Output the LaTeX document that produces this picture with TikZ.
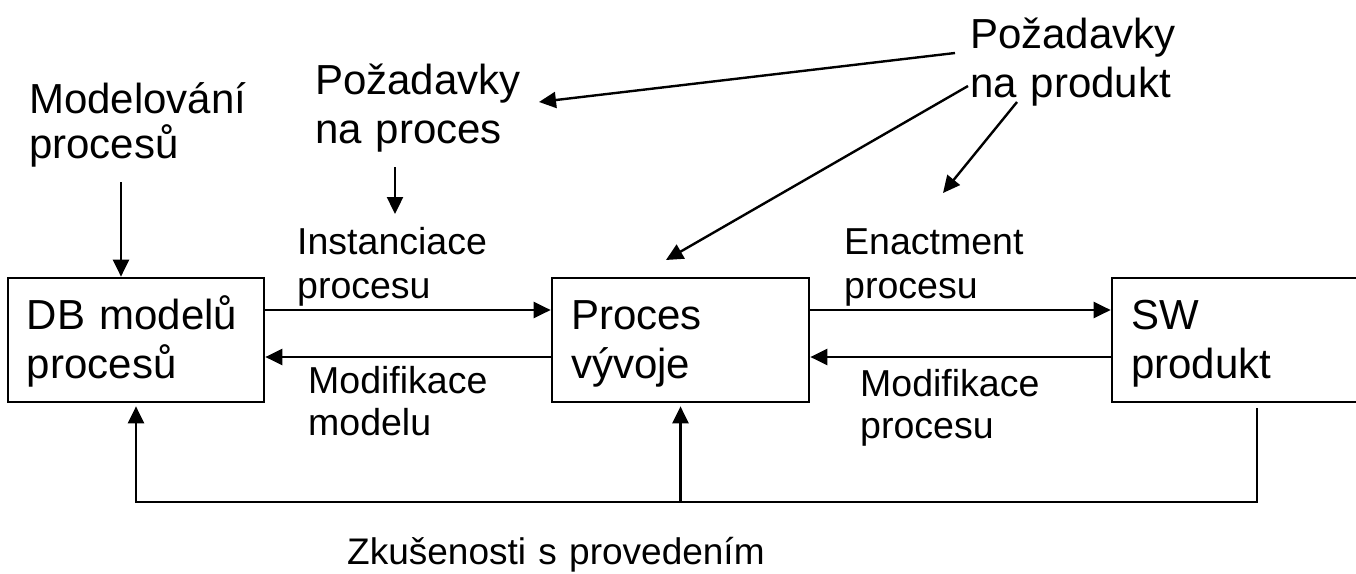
\documentclass[tikz,border=0pt]{standalone}
\usepackage{fontspec}
\setmainfont{Liberation Sans}
\usetikzlibrary{arrows.meta}
\newcommand\bigtxt{\fontsize{42}{49}\selectfont}
\newcommand\modtxt{\fontsize{42}{45}\selectfont}
\newcommand\labtxt{\fontsize{37.5}{44}\selectfont}
\newcommand\modiftxt{\fontsize{37.5}{42}\selectfont}
\newcommand\bottxt{\fontsize{37}{44}\selectfont}
\begin{document}
\begin{tikzpicture}[x=1pt,y=-1pt,
  box/.style={draw, line width=2.7pt, minimum height=124pt, inner xsep=19pt,
    inner ysep=0pt, align=left, font=\bigtxt, text height=32pt, text depth=54pt},
  txt/.style={inner sep=0pt, anchor=base west, align=left},
  arr/.style={line width=2.4pt, -{Triangle[length=17pt,width=16pt]}},
  ln/.style={line width=2.4pt}]
\useasboundingbox (0,0) rectangle (1356,573);

% boxes
\node[box, text width=218pt] (db) at (136,340) {DB modelů\\procesů};
\node[box, text width=219pt] (proc) at (680.5,340) {Proces\\vývoje};
\node[box, text width=222pt] (sw) at (1242,340) {SW\\produkt};

% free texts
\node[txt, text width=240pt, font=\modtxt] (model) at (29,113) {Modelování\\procesů};
\node[txt, text width=230pt, font=\bigtxt] (pproc) at (315,94) {Požadavky\\na proces};
\node[txt, text width=230pt, font=\bigtxt] (pprod) at (970,48) {Požadavky\\na produkt};
\node[txt, text width=220pt, font=\labtxt] (inst) at (297,254) {Instanciace\\procesu};
\node[txt, text width=220pt, font=\labtxt] (enact) at (844,254) {Enactment\\procesu};
\node[txt, text width=220pt, font=\modiftxt] (modm) at (308,393) {Modifikace\\modelu};
\node[txt, text width=220pt, font=\modiftxt] (modp) at (860,396) {Modifikace\\procesu};
\node[txt, text width=440pt, font=\bottxt] (zk) at (347,564) {Zkušenosti s provedením};

% free ends of connectors
\coordinate (mstart) at (121,182);
\coordinate (pstart) at (395,167);
\coordinate (pend) at (395,214);
\coordinate (q1s) at (955,53);
\coordinate (q1e) at (539,102);
\coordinate (q2s) at (968,86);
\coordinate (q2e) at (666,260);
\coordinate (q3s) at (1017,102);
\coordinate (q3e) at (943,193);
\coordinate (fbR) at (1257,502);
\coordinate (fbL) at (136,502);
\coordinate (fbM) at (680.5,502);

% connectors
\draw[arr] (mstart) -- (mstart |- db.north);
\draw[arr] (pstart) -- (pend);
\draw[arr] (q1s) -- (q1e);
\draw[arr] (q2s) -- (q2e);
\draw[arr] (q3s) -- (q3e);

\draw[arr] ([yshift=30pt]db.east) -- ([yshift=30pt]proc.west);
\draw[arr] ([yshift=-17pt]proc.west) -- ([yshift=-17pt]db.east);
\draw[arr] ([yshift=30pt]proc.east) -- ([yshift=30pt]sw.west);
\draw[arr] ([yshift=-17pt]sw.west) -- ([yshift=-17pt]proc.east);

\draw[arr] ([yshift=-5pt]sw.south -| fbR) |- (fbL) -- ([yshift=-3pt]db.south);
\draw[arr] (fbM) -- ([yshift=-3pt]proc.south);
\end{tikzpicture}
\end{document}
